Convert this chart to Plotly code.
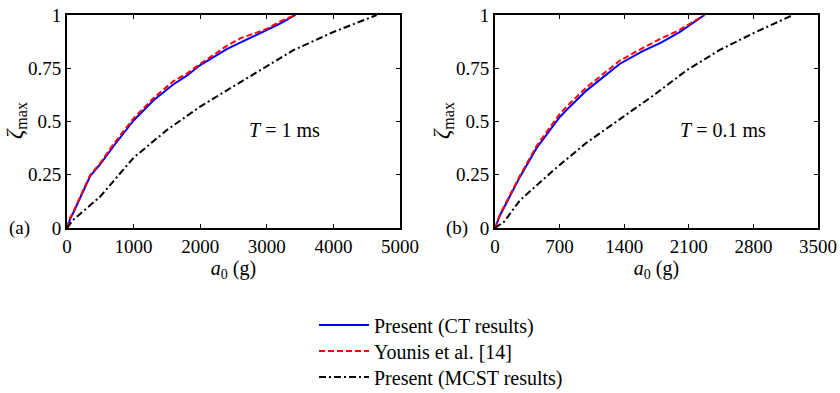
import plotly.graph_objects as go

# Panel (a): T = 1 ms
a_ct_x = [0, 50, 100, 350, 500, 700, 1000, 1300, 1600, 1800, 2000, 2400, 2600, 3000, 3200, 3430]
a_ct_y = [0, 0.045, 0.075, 0.245, 0.30, 0.385, 0.505, 0.60, 0.675, 0.715, 0.765, 0.84, 0.87, 0.93, 0.96, 1.0]
a_yo_x = [0, 50, 100, 350, 500, 700, 1000, 1300, 1600, 1800, 2000, 2400, 2600, 3000, 3200, 3430]
a_yo_y = [0, 0.05, 0.08, 0.25, 0.305, 0.395, 0.515, 0.61, 0.69, 0.725, 0.77, 0.855, 0.89, 0.935, 0.97, 1.0]
a_mc_x = [0, 100, 500, 1000, 1500, 2000, 2500, 3000, 3400, 4000, 4650]
a_mc_y = [0, 0.04, 0.148, 0.33, 0.46, 0.57, 0.665, 0.758, 0.835, 0.92, 1.0]

# Panel (b): T = 0.1 ms
b_ct_x = [0, 55, 270, 450, 700, 800, 990, 1350, 1600, 1800, 2000, 2270]
b_ct_y = [0, 0.06, 0.24, 0.375, 0.52, 0.565, 0.645, 0.77, 0.83, 0.87, 0.92, 1.0]
b_yo_x = [0, 55, 270, 450, 700, 800, 990, 1350, 1600, 1800, 2000, 2270]
b_yo_y = [0, 0.065, 0.245, 0.385, 0.535, 0.58, 0.66, 0.785, 0.845, 0.89, 0.93, 1.0]
b_mc_x = [0, 100, 270, 630, 990, 1350, 1710, 2075, 2436, 2797, 3230]
b_mc_y = [0, 0.03, 0.13, 0.27, 0.40, 0.51, 0.62, 0.74, 0.836, 0.914, 1.0]

names = ["Present (CT results)", "Younis et al. [14]", "Present (MCST results)"]
FONT = "Liberation Serif"

fig = go.Figure()
styles = [dict(color="#0000FF", width=2, dash="solid"),
          dict(color="#FF0000", width=2, dash="6px,3px"),
          dict(color="#000000", width=2, dash="7px,3px,2px,3px")]
legend_ids = ["legend", "legend2", "legend3"]

for i, (xs, ys) in enumerate([(a_ct_x, a_ct_y), (a_yo_x, a_yo_y), (a_mc_x, a_mc_y)]):
    fig.add_trace(go.Scatter(x=xs, y=ys, mode="lines", line=styles[i], name=names[i],
                             xaxis="x", yaxis="y", showlegend=True, legend=legend_ids[i]))
for i, (xs, ys) in enumerate([(b_ct_x, b_ct_y), (b_yo_x, b_yo_y), (b_mc_x, b_mc_y)]):
    fig.add_trace(go.Scatter(x=xs, y=ys, mode="lines", line=styles[i], name=names[i],
                             xaxis="x2", yaxis="y2", showlegend=False))

W, H = 840, 393
yd = [(H - 228) / H, (H - 15) / H]
axcommon = dict(showline=True, linecolor="black", linewidth=2, mirror="ticks",
                ticks="inside", ticklen=4, tickwidth=1, tickcolor="black",
                showgrid=False, zeroline=False, automargin=False,
                tickfont=dict(family=FONT, size=19, color="black"))
xtitle = dict(text="<i>a</i><sub>0</sub> (g)", standoff=0, font=dict(family=FONT, size=20))
YTITLE = "<i>ζ</i><sub>max</sub>"

def leg(row_y):
    return dict(x=314 / W, y=(H - row_y) / H, xanchor="left", yanchor="middle",
                font=dict(family=FONT, size=20), bgcolor="rgba(0,0,0,0)", itemwidth=50)

fig.update_layout(
    width=W, height=H, margin=dict(l=0, r=0, t=0, b=0, autoexpand=False),
    paper_bgcolor="white", plot_bgcolor="white",
    font=dict(family=FONT, size=19, color="black"),
    xaxis=dict(domain=[67 / W, 400 / W], range=[0, 5000], tickvals=[0, 1000, 2000, 3000, 4000, 5000],
               title=xtitle, anchor="y", **axcommon),
    yaxis=dict(domain=yd, range=[0, 1], tickvals=[0, 0.25, 0.5, 0.75, 1],
               ticktext=["0", "0.25", "0.5", "0.75", "1"], anchor="x", **axcommon),
    xaxis2=dict(domain=[495 / W, 818 / W], range=[0, 3500], tickvals=[0, 700, 1400, 2100, 2800, 3500],
                title=xtitle, anchor="y2", **axcommon),
    yaxis2=dict(domain=yd, range=[0, 1], tickvals=[0, 0.25, 0.5, 0.75, 1],
                ticktext=["0", "0.25", "0.5", "0.75", "1"], anchor="x2", **axcommon),
    legend=leg(325), legend2=leg(351), legend3=leg(377),
    annotations=[
        dict(text=YTITLE, x=16 / W, y=(H - 121) / H, xref="paper", yref="paper", textangle=-90,
             xanchor="center", yanchor="middle", showarrow=False, font=dict(family=FONT, size=23)),
        dict(text=YTITLE, x=443 / W, y=(H - 121) / H, xref="paper", yref="paper", textangle=-90,
             xanchor="center", yanchor="middle", showarrow=False, font=dict(family=FONT, size=23)),
        dict(text="<i>T</i> = 1 ms", x=2700, y=0.46, xref="x", yref="y", xanchor="left",
             showarrow=False, font=dict(family=FONT, size=20)),
        dict(text="<i>T</i> = 0.1 ms", x=1980, y=0.46, xref="x2", yref="y2", xanchor="left",
             showarrow=False, font=dict(family=FONT, size=20)),
        dict(text="(a)", x=7 / W, y=(H - 228) / H, xref="paper", yref="paper", xanchor="left",
             yanchor="middle", showarrow=False, font=dict(family=FONT, size=19)),
        dict(text="(b)", x=444 / W, y=(H - 228) / H, xref="paper", yref="paper", xanchor="left",
             yanchor="middle", showarrow=False, font=dict(family=FONT, size=19)),
    ],
)

fig.write_html("out.html", config={"displayModeBar": False},
               post_script="document.body.style.margin='0';document.body.style.overflow='hidden';")
